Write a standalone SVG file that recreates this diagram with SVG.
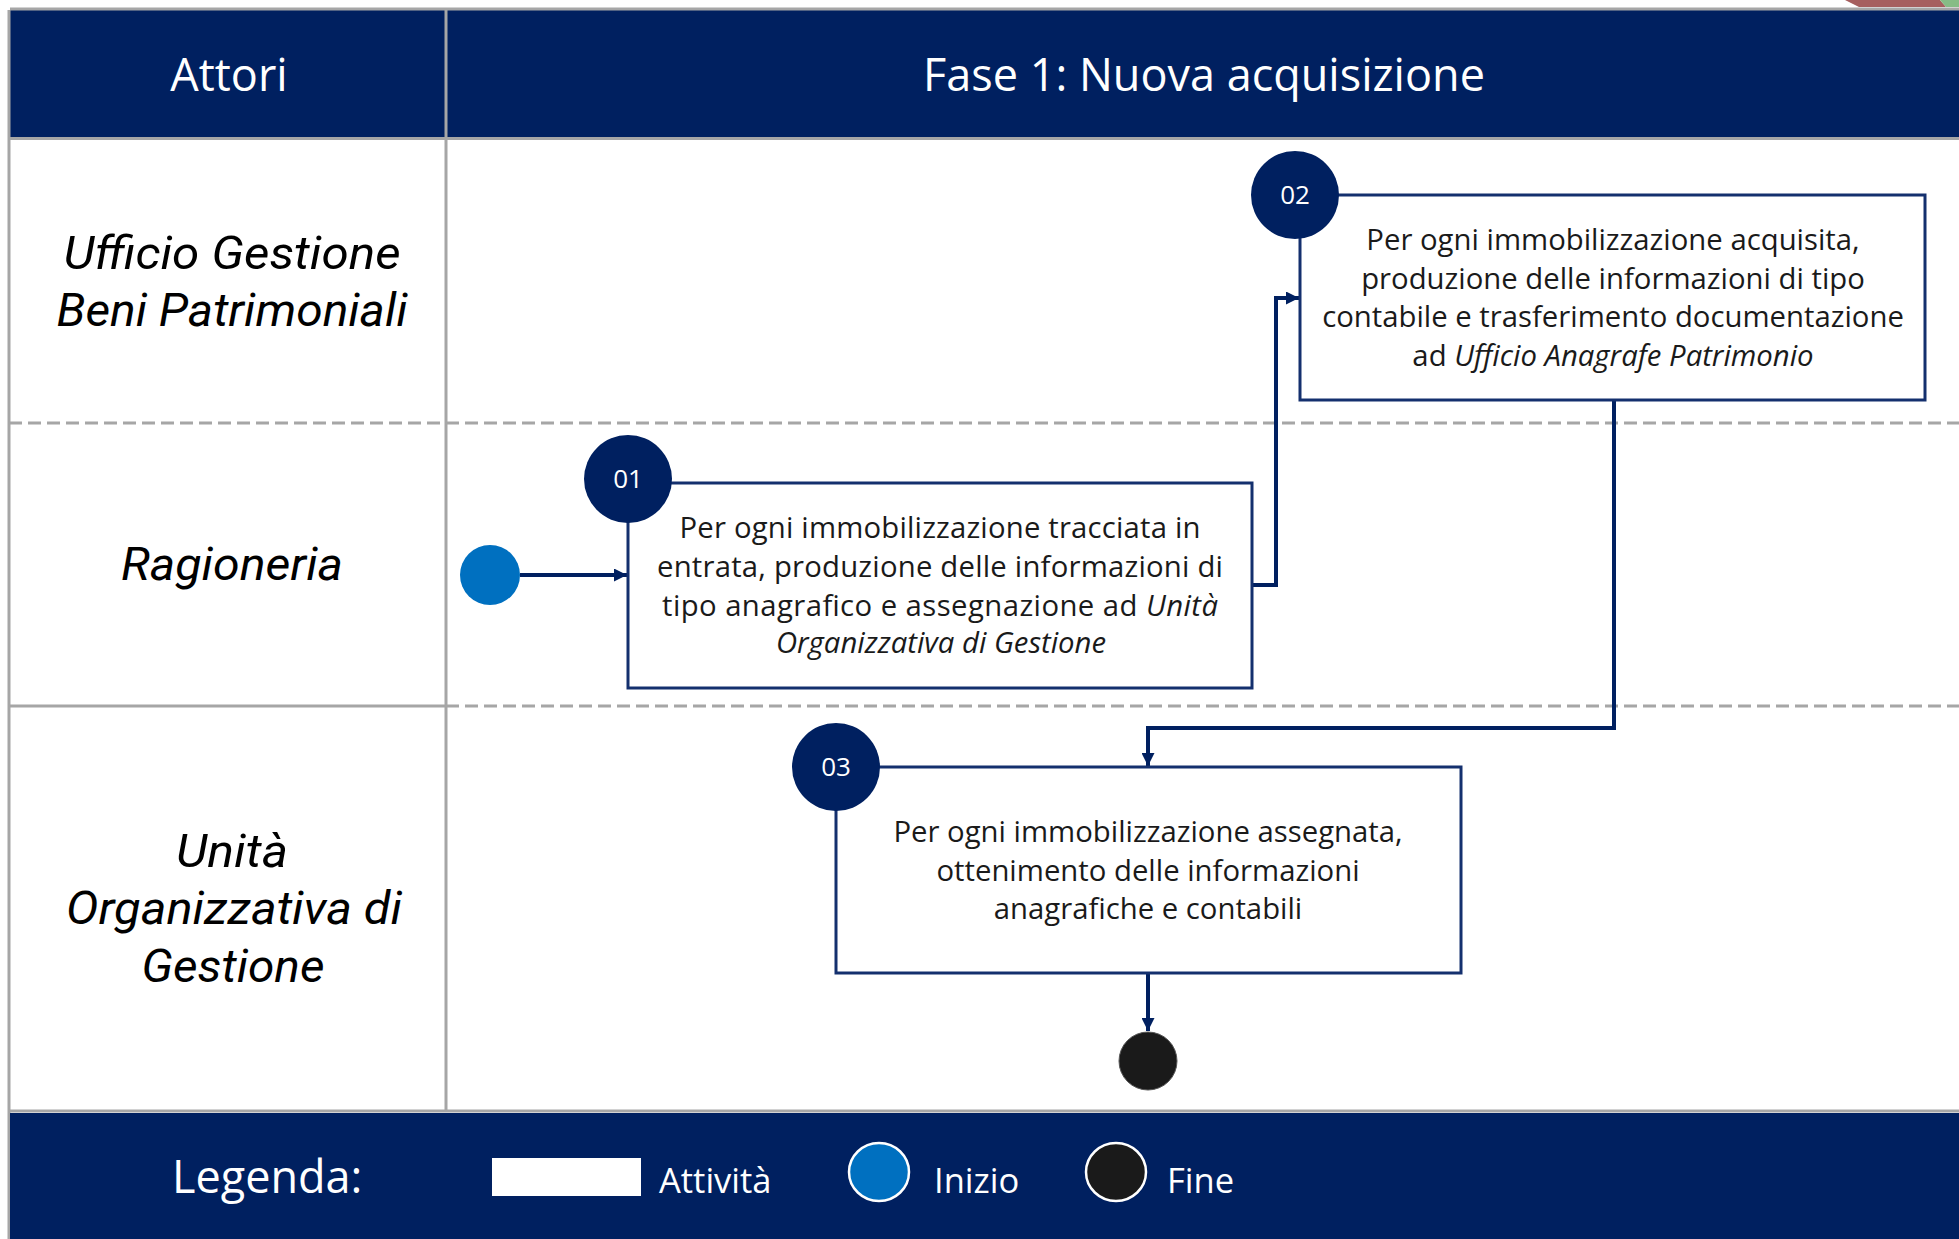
<svg xmlns="http://www.w3.org/2000/svg" width="1959" height="1239" viewBox="0 0 1959 1239">
  <style>
    .band { fill: #002060; }
    .grid { stroke: #A6A6A6; stroke-width: 3; fill: none; }
    .dash { stroke: #A6A6A6; stroke-width: 3; stroke-dasharray: 13 6; fill: none; }
    .hdr { font-family: "Open Sans", "Noto Sans", sans-serif; font-size: 45px; fill: #FFFFFF; text-anchor: middle; }
    .actor { font-family: Roboto, "Open Sans", sans-serif; font-style: italic; font-size: 47px; fill: #000000; text-anchor: middle; }
    .box { fill: #FFFFFF; stroke: #14306E; stroke-width: 3; }
    .badge { fill: #002060; }
    .num { font-family: "Open Sans", "Noto Sans", sans-serif; font-size: 26px; fill: #FFFFFF; text-anchor: middle; }
    .txt { font-family: "Open Sans", "Noto Sans", sans-serif; font-size: 29.3px; fill: #1A1A1A; text-anchor: middle; }
    .it { font-style: italic; }
    .flow { stroke: #002060; stroke-width: 4; fill: none; marker-end: url(#arrow); }
    .leg { font-family: "Open Sans", "Noto Sans", sans-serif; fill: #FFFFFF; }
  </style>
  <defs>
    <marker id="arrow" viewBox="0 0 10 10" refX="10" refY="5" markerWidth="13" markerHeight="13" markerUnits="userSpaceOnUse" orient="auto">
      <path d="M0,0 L10,5 L0,10 Z" fill="#002060"/>
    </marker>
  </defs>

  <rect width="1959" height="1239" fill="#FFFFFF"/>

  <!-- corner tab above the header -->
  <polygon points="1845,0 1940,0 1946,7 1859,7" fill="#A65F5F"/>
  <polygon points="1940,0 1959,0 1959,7 1946,7" fill="#86BC86"/>

  <!-- header band -->
  <g id="header">
    <rect class="band" x="10" y="10" width="1949" height="127"/>
    <line x1="10" y1="9" x2="1959" y2="9" stroke="#A6A6A6" stroke-width="3"/>
    <text class="hdr" x="229" y="91">Attori</text>
    <text class="hdr" x="1204" y="91">Fase 1: Nuova acquisizione</text>
  </g>

  <!-- swimlane grid -->
  <g id="lanes">
    <line class="grid" x1="9" y1="10" x2="9" y2="1239"/>
    <line class="grid" x1="446" y1="10" x2="446" y2="1112"/>
    <line class="grid" x1="9" y1="138.5" x2="1959" y2="138.5"/>
    <line class="dash" x1="9" y1="423" x2="1959" y2="423"/>
    <line class="grid" x1="9" y1="706" x2="446" y2="706"/>
    <line class="dash" x1="446" y1="706" x2="1959" y2="706"/>
    <line class="grid" x1="9" y1="1111" x2="1959" y2="1111"/>
  </g>

  <!-- actor labels -->
  <g id="actors">
    <text class="actor" x="232" y="269" textLength="337" lengthAdjust="spacingAndGlyphs">Ufficio Gestione</text>
    <text class="actor" x="232" y="326" textLength="351" lengthAdjust="spacingAndGlyphs">Beni Patrimoniali</text>
    <text class="actor" x="232" y="580" textLength="222" lengthAdjust="spacingAndGlyphs">Ragioneria</text>
    <text class="actor" x="232" y="867" textLength="112" lengthAdjust="spacingAndGlyphs">Unità</text>
    <text class="actor" x="234" y="924" textLength="336" lengthAdjust="spacingAndGlyphs">Organizzativa di</text>
    <text class="actor" x="233" y="982" textLength="183" lengthAdjust="spacingAndGlyphs">Gestione</text>
  </g>

  <!-- connectors -->
  <g id="connectors">
    <path class="flow" d="M520,575 L627,575"/>
    <path class="flow" d="M1252,585 L1276,585 L1276,298 L1299,298"/>
    <path class="flow" d="M1614,400 L1614,728 L1148,728 L1148,766"/>
    <path class="flow" d="M1148,973 L1148,1031"/>
  </g>

  <!-- start -->
  <g id="start">
    <circle cx="490" cy="575" r="30" fill="#0070C0"/>
  </g>

  <!-- activity 01 -->
  <g id="activity-01">
    <rect class="box" x="628" y="483" width="624" height="205"/>
    <text class="txt" x="940" y="538" textLength="521" lengthAdjust="spacing">Per ogni immobilizzazione tracciata in</text>
    <text class="txt" x="940" y="577" textLength="566" lengthAdjust="spacing">entrata, produzione delle informazioni di</text>
    <text class="txt" x="940" y="616" textLength="556" lengthAdjust="spacing">tipo anagrafico e assegnazione ad <tspan class="it">Unità</tspan></text>
    <text class="txt it" x="941" y="653">Organizzativa di Gestione</text>
    <circle class="badge" cx="628" cy="479" r="44"/>
    <text class="num" x="628" y="488">01</text>
  </g>

  <!-- activity 02 -->
  <g id="activity-02">
    <rect class="box" x="1300" y="195" width="625" height="205"/>
    <text class="txt" x="1613" y="250">Per ogni immobilizzazione acquisita,</text>
    <text class="txt" x="1613" y="289">produzione delle informazioni di tipo</text>
    <text class="txt" x="1613" y="327">contabile e trasferimento documentazione</text>
    <text class="txt" x="1613" y="366">ad <tspan class="it">Ufficio Anagrafe Patrimonio</tspan></text>
    <circle class="badge" cx="1295" cy="195" r="44"/>
    <text class="num" x="1295" y="204">02</text>
  </g>

  <!-- activity 03 -->
  <g id="activity-03">
    <rect class="box" x="836" y="767" width="625" height="206"/>
    <text class="txt" x="1148" y="842">Per ogni immobilizzazione assegnata,</text>
    <text class="txt" x="1148" y="881">ottenimento delle informazioni</text>
    <text class="txt" x="1148" y="919">anagrafiche e contabili</text>
    <circle class="badge" cx="836" cy="767" r="44"/>
    <text class="num" x="836" y="776">03</text>
  </g>

  <!-- end -->
  <g id="end">
    <circle cx="1148" cy="1061" r="29" fill="#1A1A1A" stroke="#555555" stroke-width="1"/>
  </g>

  <!-- legend band -->
  <g id="legend">
    <rect class="band" x="10" y="1113" width="1949" height="126"/>
    <text class="leg" x="172" y="1193" font-size="45">Legenda:</text>
    <rect x="492" y="1158" width="149" height="38" fill="#FFFFFF"/>
    <text class="leg" x="659" y="1193" font-size="34.5">Attività</text>
    <ellipse cx="879" cy="1172" rx="30" ry="29" fill="#0070C0" stroke="#FFFFFF" stroke-width="2.5"/>
    <text class="leg" x="934" y="1193" font-size="34.5">Inizio</text>
    <ellipse cx="1116" cy="1172" rx="30" ry="29" fill="#1A1A1A" stroke="#FFFFFF" stroke-width="2.5"/>
    <text class="leg" x="1167" y="1193" font-size="34.5">Fine</text>
  </g>
</svg>
